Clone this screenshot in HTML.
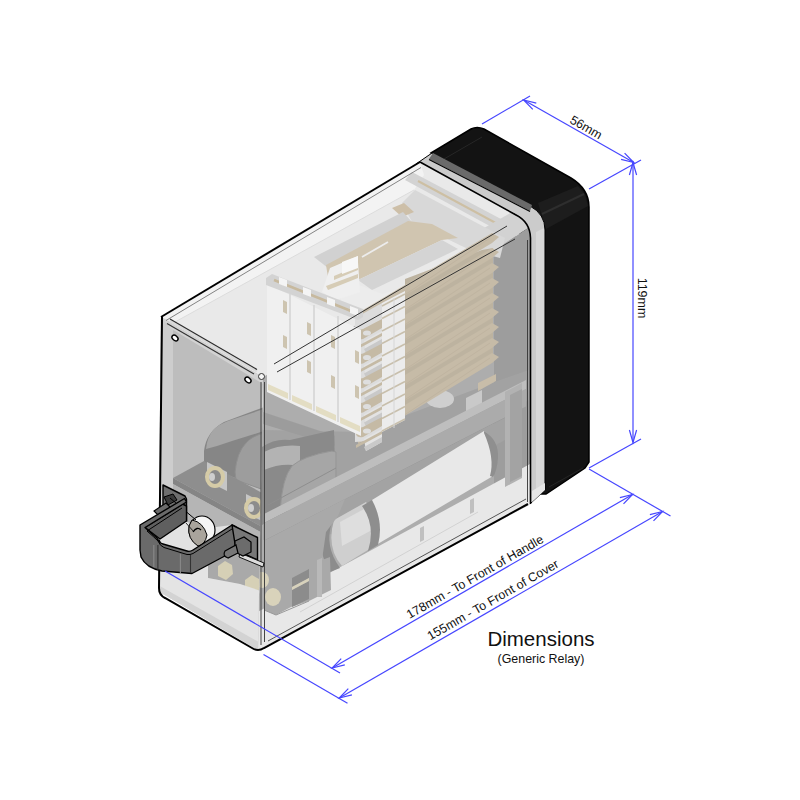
<!DOCTYPE html>
<html><head><meta charset="utf-8">
<style>
html,body{margin:0;padding:0;background:#fff;width:800px;height:800px;overflow:hidden}
svg{display:block}
text{font-family:"Liberation Sans",sans-serif}
</style></head>
<body>
<svg width="800" height="800" viewBox="0 0 800 800">
<defs>
<clipPath id="rf"><path d="M263,377 L509,224 Q530,216 531,238 L531,504 L258,650 Z"/></clipPath>
<clipPath id="tf"><path d="M161,317 L420,162 L520,215 Q528,220 527,228 L515,238 L263,377 Z"/></clipPath>
<clipPath id="cv"><path d="M161,317 L420,162 L516,215 Q530,222 531,238 L531,504 L258,650 L263,377 Z"/></clipPath>
<clipPath id="ff"><path d="M161,317 L263,377 L258,650 L158,591 Z"/></clipPath>
</defs>
<rect width="800" height="800" fill="#fff"/>
<path d="M431,153 L471,129 Q477,126 484,129 L571,178 Q589,189 589,207 L589,462 L585,468 L546,494 L520,494 L520,205 Z" fill="#131313" stroke="#000" stroke-width="1.5"/>
<path d="M538.0,203.0 L578.0,186.0 L585.0,195.0 L588.0,206.0 L546.0,229.0 Z" fill="#1d1d1d" />
<path d="M542.0,214.0 L584.0,194.0" fill="none" stroke="#2e2e2e" stroke-width="2" />
<path d="M444.0,159.0 L482.0,137.0" fill="none" stroke="#262626" stroke-width="1" />
<path d="M549.0,487.0 L583.0,468.0" fill="none" stroke="#2a2a2a" stroke-width="0.8" />
<path d="M416,164 L432,153 L530,206 Q545,214 545,230 L545,490 L531,503 L528,503 L528,232 Q528,222 518,216 Z" fill="#cbcbcb" stroke="#000" stroke-width="1"/>
<path d="M433.0,153.0 L532.0,205.0 L530.0,211.0 L429.0,159.0 Z" fill="#6a6a6a" />
<path d="M429.0,159.5 L530.0,211.5" fill="none" stroke="#000" stroke-width="1.1" />
<path d="M536.0,232.0 L544.0,228.0 L544.0,488.0 L536.0,496.0 Z" fill="#d8d8d8" />
<path d="M532.0,491.0 L545.0,483.0 L545.0,490.0 L532.0,502.0 Z" fill="#e6e6e6" />
<g clip-path="url(#cv)">
<path d="M161.0,317.0 L420.0,162.0 L520.0,215.0 L528.0,228.0 L263.0,377.0 Z" fill="#e9e9e9" />
<path d="M263.0,377.0 L515.0,236.0 L531.0,236.0 L531.0,504.0 L258.0,650.0 Z" fill="#adadad" />
<path d="M161.0,317.0 L420.0,162.0 L424.0,175.0 L414.0,190.0 L175.0,322.0 Z" fill="#f3f3f3" />
<path d="M175.0,322.0 L414.0,190.0" fill="none" stroke="#dcdcdc" stroke-width="1" />
<path d="M412.0,172.0 L522.0,230.0 L512.0,238.0 L405.0,180.0 Z" fill="#d3d3d3" />
<path d="M418.0,181.0 L505.0,228.0" fill="none" stroke="#cdbfa3" stroke-width="2" />
<path d="M470.0,236.0 L512.0,212.0 L531.0,226.0 L510.0,240.0 L494.0,250.0 L470.0,262.0 Z" fill="#d2d2d2" />
<path d="M494.0,252.0 L510.0,240.0 L531.0,226.0 L531.0,500.0 L494.0,518.0 Z" fill="#9d9d9d" />
<path d="M250.0,616.0 L530.0,464.0 L540.0,520.0 L250.0,680.0 Z" fill="#e8e8e8" />
<path d="M300.0,612.0 L478.0,512.0" fill="none" stroke="#d2d2d2" stroke-width="1" />
<path d="M263.0,430.0 L361.0,432.0 L500.0,380.0 L529.0,370.0 L529.0,400.0 L263.0,540.0 Z" fill="#a2a2a2" />
<ellipse cx="440" cy="399" rx="14" ry="9" fill="#cfcfcf"/>
<path d="M466.0,398.0 L482.0,390.0 L482.0,408.0 L466.0,416.0 Z" fill="#c9c9c9" />
<path d="M263.0,412.0 L335.0,436.0 L335.0,446.0 L263.0,424.0 Z" fill="#9c9c9c" />
<path d="M262,447 Q275,438 290,440 L334,430 L336,505 L280,515 L262,525 Z" fill="#8a8a8a"/>
<path d="M264,452 Q280,444 300,446 L300,466 Q282,462 264,470 Z" fill="#b3b3b3"/>
<path d="M280,512 Q282,478 292,466 Q303,456 332,451 L336,452 L336,508 Z" fill="#a6a6a6" stroke="#959595" stroke-width="1"/>
<path d="M268.0,505.0 L336.0,468.0" fill="none" stroke="#8e8e8e" stroke-width="1" />
<path d="M264.0,514.0 L526.0,380.0 L526.0,389.0 L264.0,523.0 Z" fill="#bebebe" />
<path d="M264.0,523.0 L526.0,389.0 L526.0,407.0 L264.0,541.0 Z" fill="#ababab" />
<path d="M264.0,541.0 L526.0,407.0" fill="none" stroke="#9c9c9c" stroke-width="1" />
<path d="M264.0,541.0 L505.0,418.0 L505.0,440.0 L264.0,570.0 Z" fill="#a3a3a3" />
<path d="M505.0,392.0 L522.0,383.0 L522.0,478.0 L505.0,487.0 Z" fill="#b2b2b2" />
<path d="M510.0,395.0 L522.0,389.0 L522.0,476.0 L510.0,482.0 Z" fill="#a3a3a3" />
<path d="M372,500 L484,431 Q497,440 496,458 Q495,470 493,476 L376,545 Z" fill="#e8e8e8"/>
<path d="M484,431 Q499,440 498,458 Q497,471 493,477 L490,476 Q495,458 484,433 Z" fill="#8f8f8f"/>
<path d="M334,520 L366,502 Q379,520 376,545 L342,566 Q326,548 334,520 Z" fill="#cfcfcf"/>
<path d="M340,522 L366,508 Q372,520 372,530 L342,546 Z" fill="#dedede"/>
<path d="M362,506 L372,500 Q384,522 378,545 L368,551 Q376,526 362,506 Z" fill="#8e8e8e"/>
<path d="M332,522 Q324,546 340,568 L330,572 Q315,548 326,524 Z" fill="#8c8c8c"/>
<path d="M420.0,528.0 L424.0,526.0 L424.0,540.0 L420.0,542.0 Z" fill="#c0c0c0" />
<path d="M470.0,500.0 L474.0,498.0 L474.0,512.0 L470.0,514.0 Z" fill="#c0c0c0" />
<path d="M264.0,541.0 L345.0,499.0 L338.0,516.0 L326.0,532.0 L322.0,560.0 L330.0,557.0 L331.0,590.0 L317.0,597.0 L309.0,601.0 L291.0,607.0 L276.0,615.0 L264.0,610.0 Z" fill="#a9a9a9" />
<path d="M292.0,578.0 L309.0,569.0 L309.0,578.0 L292.0,587.0 Z" fill="#8c8c8c" />
<path d="M292.0,590.0 L309.0,581.0 L309.0,599.0 L292.0,607.0 Z" fill="#8c8c8c" />
<path d="M292.0,587.0 L309.0,578.0 L309.0,581.0 L292.0,590.0 Z" fill="#d8d2bc" />
<path d="M317.0,560.0 L322.0,558.0 L322.0,597.0 L317.0,597.0 Z" fill="#b9b9b9" />
<path d="M309,601 L276,615 L264,610" fill="none" stroke="#999" stroke-width="1"/>
<ellipse cx="273" cy="597" rx="8" ry="9" fill="#d9d3bb"/>
<ellipse cx="262" cy="580" rx="7" ry="8" fill="#d9d3bb"/>
<path d="M402.0,203.0 L415.0,190.0 L505.0,238.0 L500.0,258.0 L470.0,250.0 L412.0,222.0 Z" fill="#d8d8d8" />
<path d="M392.0,208.0 L404.0,203.0 L414.0,212.0 L402.0,217.0 Z" fill="#cdbfa8" />
<path d="M314.0,257.0 L403.0,212.0 L412.0,222.0 L328.0,268.0 Z" fill="#d1d1d1" />
<path d="M326.0,265.0 L408.0,221.0 L432.0,224.0 L458.0,238.0 L442.0,240.0 L358.0,280.0 L345.0,288.0 L330.0,290.0 Z" fill="#d0c5b0" />
<path d="M362.0,257.0 L388.0,242.0" fill="none" stroke="#ececec" stroke-width="1.8" />
<path d="M358.0,280.0 L442.0,240.0 L458.0,249.0 L372.0,290.0 Z" fill="#d4d4d4" />
<path d="M341.0,290.0 L359.0,285.0 L382.0,294.0 L404.0,288.0 L404.0,314.0 L341.0,314.0 Z" fill="#ececec" />
<path d="M330.0,268.0 L344.0,262.0 L358.0,256.0 L358.0,262.0 L360.0,292.0 L336.0,300.0 L322.0,292.0 Z" fill="#efefef" />
<path d="M334.0,276.0 L358.0,266.0 L358.0,270.0 L334.0,280.0 Z" fill="#d6ccb6" />
<path d="M326.0,286.0 L358.0,274.0 L358.0,278.0 L328.0,290.0 Z" fill="#d6ccb6" />
<path d="M342.0,262.0 L358.0,256.0 L358.0,268.0 L342.0,274.0 Z" fill="#f7f7f7" />
<path d="M405.0,279.0 L482.0,250.0 L493.0,248.0 L493.0,362.0 L356.0,442.0 L356.0,330.0 L405.0,300.0 Z" fill="#bdb3a0" />
<path d="M358.0,313.0 L492.0,233.0 L499.0,237.0 L492.0,243.0 L358.0,324.0 Z" fill="#c6bba7" />
<path d="M370.0,318.0 L490.0,238.0" fill="none" stroke="#bcb29e" stroke-width="0.7" />
<path d="M358.0,328.0 L492.0,248.0 L499.0,252.0 L492.0,258.0 L358.0,339.0 Z" fill="#c6bba7" />
<path d="M370.0,333.0 L490.0,253.0" fill="none" stroke="#bcb29e" stroke-width="0.7" />
<path d="M358.0,343.0 L492.0,263.0 L499.0,267.0 L492.0,273.0 L358.0,354.0 Z" fill="#c6bba7" />
<path d="M370.0,348.0 L490.0,268.0" fill="none" stroke="#bcb29e" stroke-width="0.7" />
<path d="M358.0,358.0 L492.0,278.0 L499.0,282.0 L492.0,288.0 L358.0,369.0 Z" fill="#c6bba7" />
<path d="M370.0,363.0 L490.0,283.0" fill="none" stroke="#bcb29e" stroke-width="0.7" />
<path d="M358.0,373.0 L492.0,293.0 L499.0,297.0 L492.0,303.0 L358.0,384.0 Z" fill="#c6bba7" />
<path d="M370.0,378.0 L490.0,298.0" fill="none" stroke="#bcb29e" stroke-width="0.7" />
<path d="M358.0,388.0 L492.0,308.0 L499.0,312.0 L492.0,318.0 L358.0,399.0 Z" fill="#c6bba7" />
<path d="M370.0,393.0 L490.0,313.0" fill="none" stroke="#bcb29e" stroke-width="0.7" />
<path d="M358.0,403.0 L492.0,323.0 L499.0,327.0 L492.0,333.0 L358.0,414.0 Z" fill="#c6bba7" />
<path d="M370.0,408.0 L490.0,328.0" fill="none" stroke="#bcb29e" stroke-width="0.7" />
<path d="M358.0,418.0 L492.0,338.0 L499.0,342.0 L492.0,348.0 L358.0,429.0 Z" fill="#c6bba7" />
<path d="M370.0,423.0 L490.0,343.0" fill="none" stroke="#bcb29e" stroke-width="0.7" />
<path d="M358.0,433.0 L492.0,353.0 L499.0,357.0 L492.0,363.0 L358.0,444.0 Z" fill="#c6bba7" />
<path d="M370.0,438.0 L490.0,358.0" fill="none" stroke="#bcb29e" stroke-width="0.7" />
<path d="M478.0,383.0 L496.0,374.0 L496.0,381.0 L478.0,391.0 Z" fill="#c8bda9" />
<path d="M355.0,318.0 L382.0,303.0 L382.0,440.0 L355.0,442.0 Z" fill="#dcdcdc" />
<path d="M364,341.0 L382,331.0 L382,344.0 L366,353.0 Z" fill="#e3e3e3"/>
<path d="M364,349.0 L382,339.0 L382,344.0 L366,353.0 Z" fill="#c9c9c9"/>
<path d="M356,336.0 Q356,330.0 363,329.0 L382,319.0 L382,328.0 L363,339.0 Q357,340.0 356,336.0 Z" fill="#c5baa5"/>
<ellipse cx="367" cy="333.0" rx="4" ry="2.6" fill="#dedede"/>
<path d="M356.0,347.0 L382.0,333.0 L382.0,336.0 L356.0,350.0 Z" fill="#c5baa5" />
<path d="M364,365.5 L382,355.5 L382,368.5 L366,377.5 Z" fill="#e3e3e3"/>
<path d="M364,373.5 L382,363.5 L382,368.5 L366,377.5 Z" fill="#c9c9c9"/>
<path d="M356,360.5 Q356,354.5 363,353.5 L382,343.5 L382,352.5 L363,363.5 Q357,364.5 356,360.5 Z" fill="#c5baa5"/>
<ellipse cx="367" cy="357.5" rx="4" ry="2.6" fill="#dedede"/>
<path d="M356.0,371.5 L382.0,357.5 L382.0,360.5 L356.0,374.5 Z" fill="#c5baa5" />
<path d="M364,390.0 L382,380.0 L382,393.0 L366,402.0 Z" fill="#e3e3e3"/>
<path d="M364,398.0 L382,388.0 L382,393.0 L366,402.0 Z" fill="#c9c9c9"/>
<path d="M356,385.0 Q356,379.0 363,378.0 L382,368.0 L382,377.0 L363,388.0 Q357,389.0 356,385.0 Z" fill="#c5baa5"/>
<ellipse cx="367" cy="382.0" rx="4" ry="2.6" fill="#dedede"/>
<path d="M356.0,396.0 L382.0,382.0 L382.0,385.0 L356.0,399.0 Z" fill="#c5baa5" />
<path d="M364,414.5 L382,404.5 L382,417.5 L366,426.5 Z" fill="#e3e3e3"/>
<path d="M364,422.5 L382,412.5 L382,417.5 L366,426.5 Z" fill="#c9c9c9"/>
<path d="M356,409.5 Q356,403.5 363,402.5 L382,392.5 L382,401.5 L363,412.5 Q357,413.5 356,409.5 Z" fill="#c5baa5"/>
<ellipse cx="367" cy="406.5" rx="4" ry="2.6" fill="#dedede"/>
<path d="M356.0,420.5 L382.0,406.5 L382.0,409.5 L356.0,423.5 Z" fill="#c5baa5" />
<path d="M364,439.0 L382,429.0 L382,442.0 L366,451.0 Z" fill="#e3e3e3"/>
<path d="M364,447.0 L382,437.0 L382,442.0 L366,451.0 Z" fill="#c9c9c9"/>
<path d="M356,434.0 Q356,428.0 363,427.0 L382,417.0 L382,426.0 L363,437.0 Q357,438.0 356,434.0 Z" fill="#c5baa5"/>
<ellipse cx="367" cy="431.0" rx="4" ry="2.6" fill="#dedede"/>
<path d="M356.0,445.0 L382.0,431.0 L382.0,434.0 L356.0,448.0 Z" fill="#c5baa5" />
<path d="M382.0,303.0 L405.0,291.0 L405.0,420.0 L382.0,432.0 Z" fill="#ececec" />
<path d="M382.0,306.0 L405.0,294.0" fill="none" stroke="#c8bfac" stroke-width="1.5" />
<path d="M382.0,318.5 L405.0,306.5" fill="none" stroke="#c8bfac" stroke-width="1.5" />
<path d="M382.0,331.0 L405.0,319.0" fill="none" stroke="#c8bfac" stroke-width="1.5" />
<path d="M382.0,343.5 L405.0,331.5" fill="none" stroke="#c8bfac" stroke-width="1.5" />
<path d="M382.0,356.0 L405.0,344.0" fill="none" stroke="#c8bfac" stroke-width="1.5" />
<path d="M382.0,368.5 L405.0,356.5" fill="none" stroke="#c8bfac" stroke-width="1.5" />
<path d="M382.0,381.0 L405.0,369.0" fill="none" stroke="#c8bfac" stroke-width="1.5" />
<path d="M382.0,393.5 L405.0,381.5" fill="none" stroke="#c8bfac" stroke-width="1.5" />
<path d="M382.0,406.0 L405.0,394.0" fill="none" stroke="#c8bfac" stroke-width="1.5" />
<path d="M382.0,418.5 L405.0,406.5" fill="none" stroke="#c8bfac" stroke-width="1.5" />
<path d="M382.0,431.0 L405.0,419.0" fill="none" stroke="#c8bfac" stroke-width="1.5" />
<path d="M394.0,298.0 L394.0,428.0" fill="none" stroke="#d6d6d6" stroke-width="1" />
<path d="M267.0,284.0 L290.0,295.0 L314.0,307.0 L338.0,319.0 L361.0,330.0 L361.0,436.0 L267.0,392.0 Z" fill="#f0f0f0" />
<path d="M290.0,294.0 L290.0,400.0" fill="none" stroke="#d5d5d5" stroke-width="1.6" />
<path d="M314.0,305.0 L314.0,411.0" fill="none" stroke="#d5d5d5" stroke-width="1.6" />
<path d="M338.0,316.0 L338.0,422.0" fill="none" stroke="#d5d5d5" stroke-width="1.6" />
<path d="M283.0,300.0 L287.0,302.0 L287.0,314.0 L283.0,312.0 Z" fill="#cdc4b0" />
<path d="M283.0,335.0 L287.0,337.0 L287.0,349.0 L283.0,347.0 Z" fill="#cdc4b0" />
<path d="M307.0,322.0 L311.0,324.0 L311.0,336.0 L307.0,334.0 Z" fill="#cdc4b0" />
<path d="M307.0,360.0 L311.0,362.0 L311.0,374.0 L307.0,372.0 Z" fill="#cdc4b0" />
<path d="M331.0,335.0 L335.0,337.0 L335.0,349.0 L331.0,347.0 Z" fill="#cdc4b0" />
<path d="M331.0,375.0 L335.0,377.0 L335.0,389.0 L331.0,387.0 Z" fill="#cdc4b0" />
<path d="M355.0,350.0 L359.0,352.0 L359.0,364.0 L355.0,362.0 Z" fill="#cdc4b0" />
<path d="M355.0,385.0 L359.0,387.0 L359.0,399.0 L355.0,397.0 Z" fill="#cdc4b0" />
<path d="M266.0,278.0 L272.0,274.0 L363.0,309.0 L363.0,317.0 L358.0,320.0 L266.0,285.0 Z" fill="#d3d3d3" />
<path d="M274.0,280.0 L356.0,313.0" fill="none" stroke="#c7b99e" stroke-width="2.5" />
<path d="M279.0,277.0 L287.0,280.0 L287.0,287.0 L279.0,284.0 Z" fill="#f4f4f4" />
<path d="M303.0,287.0 L311.0,290.0 L311.0,297.0 L303.0,294.0 Z" fill="#f4f4f4" />
<path d="M327.0,297.0 L335.0,300.0 L335.0,307.0 L327.0,304.0 Z" fill="#f4f4f4" />
<path d="M350.0,306.0 L358.0,309.0 L358.0,316.0 L350.0,313.0 Z" fill="#f4f4f4" />
<path d="M268.0,384.0 L288.0,393.0 L288.0,399.0 L268.0,390.0 Z" fill="#e3ddc3" />
<path d="M292.0,395.0 L312.0,404.0 L312.0,410.0 L292.0,401.0 Z" fill="#e3ddc3" />
<path d="M316.0,406.0 L336.0,415.0 L336.0,421.0 L316.0,412.0 Z" fill="#e3ddc3" />
<path d="M340.0,417.0 L360.0,426.0 L360.0,432.0 L340.0,423.0 Z" fill="#e3ddc3" />
</g>
<g clip-path="url(#ff)">
<rect x="150" y="300" width="120" height="360" fill="#bdbdbd"/>
<path d="M158.0,300.0 L173.0,322.0 L173.0,570.0 L158.0,570.0 Z" fill="#cdcdcd" />
<path d="M161.0,317.0 L263.0,377.0 L263.0,384.0 L170.0,328.0 Z" fill="#d2d2d2" />
<path d="M204,465 L204,451 Q206,432 224,422 L264,407 L264,490 L235,478 Z" fill="#868686"/>
<path d="M214,429 Q220,424 228,421 L264,409 L264,431 L232,441 Q218,446 206,449 Q207,437 214,429 Z" fill="#a6a6a6"/>
<path d="M235,472 Q237,452 246,443 Q252,436 264,433 L264,490 L236,480 Z" fill="#9d9d9d" stroke="#8f8f8f" stroke-width="1"/>
<path d="M173.0,478.0 L204.0,461.0 L264.0,494.0 L264.0,528.0 Z" fill="#8e8e8e" />
<path d="M173.0,478.0 L264.0,528.0 L264.0,534.0 L173.0,484.0 Z" fill="#858585" />
<path d="M173.0,484.0 L264.0,534.0 L264.0,600.0 L173.0,560.0 Z" fill="#b5b5b5" />
<path d="M208.0,558.0 L245.0,552.0 L262.0,562.0 L262.0,590.0 L240.0,584.0 L208.0,578.0 Z" fill="#a9a9a9" />
<path d="M218,566 L225,561 L232,565 L233,574 L226,580 L218,576 Z" fill="#d6d0b6"/>
<path d="M245,580 L252,575 L259,579 L260,589 L253,594 L245,590 Z" fill="#d6d0b6"/>
<path d="M207.0,462.0 L227.0,472.0 L227.0,491.0 L207.0,481.0 Z" fill="#c6c6c6" />
<path d="M246.0,494.0 L264.0,503.0 L264.0,522.0 L246.0,513.0 Z" fill="#c6c6c6" />
<ellipse cx="215" cy="477" rx="8" ry="9" fill="#8c8c8c" stroke="#d5cba7" stroke-width="4"/>
<ellipse cx="254" cy="508" rx="8" ry="9" fill="#8c8c8c" stroke="#d5cba7" stroke-width="4"/>
<ellipse cx="212" cy="477" rx="3" ry="4" fill="#cfcfcf"/>
<ellipse cx="251" cy="508" rx="3" ry="4" fill="#cfcfcf"/>
<path d="M158.0,568.0 L208.0,558.0 L208.0,578.0 L240.0,584.0 L264.0,592.0 L264.0,660.0 L158.0,600.0 Z" fill="#e4e4e4" />
<path d="M158.0,585.0 L264.0,645.0 L264.0,660.0 L158.0,600.0 Z" fill="#d3d3d3" />
</g>
<path d="M161.0,317.0 L420.0,162.0" fill="none" stroke="#000" stroke-width="2" />
<path d="M166.0,320.5 L421.0,167.5" fill="none" stroke="#666" stroke-width="0.8" />
<path d="M162,317 L159,588 Q159,595 165,598 L252,648 Q258,652 264,648 L528,504" fill="none" stroke="#000" stroke-width="2"/>
<path d="M170.0,320.5 L257.0,371.0" fill="none" stroke="#d9d9d9" stroke-width="3" />
<path d="M170.0,319.0 L257.0,369.5" fill="none" stroke="#2a2a2a" stroke-width="1.1" />
<path d="M167.0,323.5 L254.0,374.0" fill="none" stroke="#333" stroke-width="1.1" />
<path d="M274.0,364.0 L507.0,226.0" fill="none" stroke="#333" stroke-width="1" />
<path d="M277.0,372.0 L515.0,239.0" fill="none" stroke="#333" stroke-width="1" />
<path d="M261.0,382.0 L261.0,645.0" fill="none" stroke="#444" stroke-width="1" />
<path d="M527.5,240.0 L527.5,502.0" fill="none" stroke="#333" stroke-width="0.9" />
<path d="M268.0,641.0 L526.0,499.0" fill="none" stroke="#444" stroke-width="0.9" />
<path d="M264.5,382.0 L264.5,642.0" fill="none" stroke="#444" stroke-width="1" />
<path d="M420,162 L516,215 Q530,222 530.5,238 L530.5,504" fill="none" stroke="#000" stroke-width="1.6"/>
<ellipse cx="175" cy="338" rx="3.4" ry="2.4" transform="rotate(40 175 338)" fill="#fff" stroke="#000" stroke-width="1.4"/>
<ellipse cx="248" cy="380" rx="3.4" ry="2.4" transform="rotate(40 248 380)" fill="#fff" stroke="#000" stroke-width="1.4"/>
<ellipse cx="261.5" cy="376.5" rx="3" ry="3" fill="#f5f5f5" stroke="#333" stroke-width="1"/>
<path d="M163.0,485.0 L185.0,496.0 L186.5,499.0 L186.5,523.0 L163.0,512.0 Z" fill="#6e6e6e" stroke="#000" stroke-width="1.4" stroke-linejoin="round"/>
<path d="M154,511 L166,503 L171,508 L159,516 Z" fill="#6a6a6a" stroke="#000" stroke-width="1.1"/>
<path d="M164,497 L173,494 L177,500 L168,505 Z" fill="#3a3a3a" stroke="#000" stroke-width="1"/>
<path d="M158,538 L186,521 L200,529 L232,525 L193,550 L187,551 L163,544 Z" fill="#e2e2e2"/>
<ellipse cx="202" cy="530" rx="13" ry="14" fill="#f5f5f5" stroke="#000" stroke-width="1.2"/>
<path d="M192,520 Q203,522 207,535 Q205,545 198,546 Q187,539 189,526 Z" fill="#a9a49c" stroke="#000" stroke-width="1"/>
<path d="M193,532 Q197,526 201,530" fill="none" stroke="#000" stroke-width="1.3"/>
<path d="M170.0,498.0 L196.0,520.0" fill="none" stroke="#000" stroke-width="1" />
<path d="M186.0,523.0 L194.0,532.0" fill="none" stroke="#000" stroke-width="0.8" />
<path d="M145.0,527.5 L182.5,504.0 L186.5,506.0 L186.5,521.0 L160.0,539.0 Z" fill="#5f5f5f" stroke="#000" stroke-width="1.4" stroke-linejoin="round"/>
<path d="M140,525 L184.5,498.5 L186.5,502 L145,527.5 Q152,534 157,538 Q159,543 163,544 L187,551 Q190,552 193,550 L232,525 L236,527 L236,550 L192,573.5 L162,571 Q146,568 141,557 L140,550 Z" fill="#6a6a6a" stroke="#000" stroke-width="1.4" stroke-linejoin="round"/>
<path d="M147.0,531.0 L182.0,508.0" fill="none" stroke="#000" stroke-width="1" />
<path d="M147,531 Q154,537 158,541 Q160,546 164,547.5 L187,554.5 Q190,555 193,553.5 L232,529" fill="none" stroke="#000" stroke-width="1"/>
<path d="M153.8,545.0 L153.8,567.0" fill="none" stroke="#8a8a8a" stroke-width="1.1" />
<path d="M157.9,545.0 L157.9,570.0" fill="none" stroke="#333" stroke-width="1.1" />
<path d="M180.4,554.0 L180.4,573.0" fill="none" stroke="#8a8a8a" stroke-width="1.1" />
<path d="M190.5,555.0 L190.5,573.0" fill="none" stroke="#333" stroke-width="1.1" />
<path d="M232.0,525.0 L257.5,537.5 L257.5,560.0 L236.0,550.0 Z" fill="#787878" stroke="#000" stroke-width="1.4" stroke-linejoin="round"/>
<path d="M240,553 L264,563 L263,567 L239,557 Z" fill="#ddd" stroke="#000" stroke-width="0.9"/>
<path d="M235,541 L244,537 L251,542 L251,552 L243,556 L235,552 Z" fill="#6c6c6c" stroke="#000" stroke-width="1.2"/>
<path d="M225,551 L236,545 L238,553 L228,558 Q222,556 225,551 Z" fill="#777" stroke="#000" stroke-width="1.2"/>
<g stroke="#4646ff" stroke-width="1.2" fill="none">
<path d="M482.0,124.0 L530.0,96.0" fill="none" stroke="#4646ff" stroke-width="1.2" />
<path d="M589.0,189.0 L641.0,160.0" fill="none" stroke="#4646ff" stroke-width="1.2" />
<path d="M523.7,100.0 L633.7,162.5" fill="none" stroke="#4646ff" stroke-width="1.2" />
<path d="M633.0,162.5 L633.0,442.5" fill="none" stroke="#4646ff" stroke-width="1.2" />
<path d="M589.0,468.0 L641.0,439.0" fill="none" stroke="#4646ff" stroke-width="1.2" />
<path d="M589.0,469.0 L670.5,516.0" fill="none" stroke="#4646ff" stroke-width="1.2" />
<path d="M165.0,571.0 L340.0,673.0" fill="none" stroke="#4646ff" stroke-width="1.2" />
<path d="M263.5,654.5 L347.5,703.3" fill="none" stroke="#4646ff" stroke-width="1.2" />
<path d="M332.2,668.0 L632.5,494.5" fill="none" stroke="#4646ff" stroke-width="1.2" />
<path d="M339.3,698.0 L662.5,511.5" fill="none" stroke="#4646ff" stroke-width="1.2" />
</g>
<path d="M532.8,109.3 L523.7,100.0 L536.3,103.1" fill="none" stroke="#4646ff" stroke-width="1.2"/>
<path d="M624.6,153.2 L633.7,162.5 L621.1,159.4" fill="none" stroke="#4646ff" stroke-width="1.2"/>
<path d="M629.4,175.0 L633.0,162.5 L636.6,175.0" fill="none" stroke="#4646ff" stroke-width="1.2"/>
<path d="M636.6,430.0 L633.0,442.5 L629.4,430.0" fill="none" stroke="#4646ff" stroke-width="1.2"/>
<path d="M344.8,664.9 L332.2,668.0 L341.2,658.6" fill="none" stroke="#4646ff" stroke-width="1.2"/>
<path d="M619.9,497.6 L632.5,494.5 L623.5,503.9" fill="none" stroke="#4646ff" stroke-width="1.2"/>
<path d="M351.9,694.9 L339.3,698.0 L348.3,688.7" fill="none" stroke="#4646ff" stroke-width="1.2"/>
<path d="M649.9,514.6 L662.5,511.5 L653.5,520.8" fill="none" stroke="#4646ff" stroke-width="1.2"/>
<g fill="#111">
<text x="0" y="0" font-size="12.5" transform="translate(584,131) rotate(29.6)" text-anchor="middle">56mm</text>
<text x="0" y="0" font-size="12.5" transform="translate(638,298) rotate(90)" text-anchor="middle">119mm</text>
<text x="0" y="0" font-size="12.5" transform="translate(477,580.5) rotate(-29.8)" text-anchor="middle">178mm - To Front of Handle</text>
<text x="0" y="0" font-size="12.5" transform="translate(495,603.5) rotate(-29.8)" text-anchor="middle">155mm - To Front of Cover</text>
<text x="541" y="646" font-size="20.5" text-anchor="middle">Dimensions</text>
<text x="541" y="663" font-size="12.4" text-anchor="middle">(Generic Relay)</text>
</g>
</svg>
</body></html>
